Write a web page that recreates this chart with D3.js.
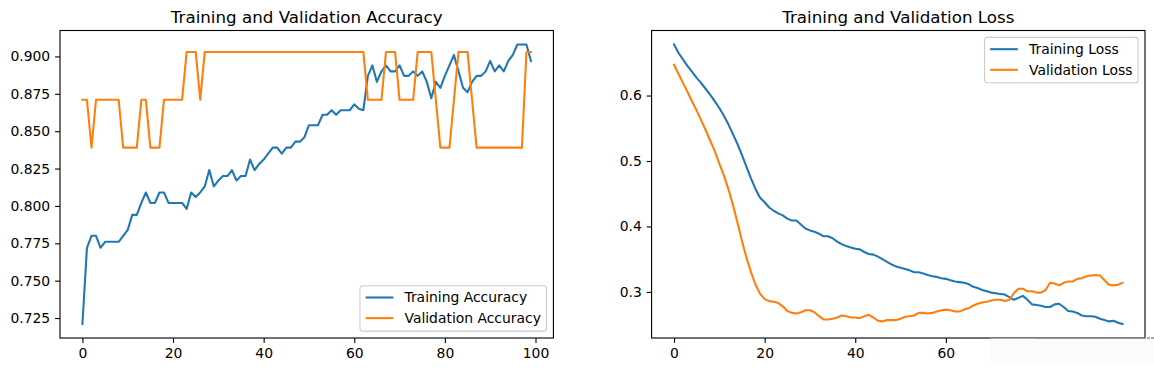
<!DOCTYPE html>
<html>
<head>
<meta charset="utf-8">
<script src="https://cdn.jsdelivr.net/npm/d3@7"></script>
<style>
  html, body { margin: 0; padding: 0; background: #fff; }
  svg { display: block; font-family: "DejaVu Sans", sans-serif; }
</style>
</head>
<body>
<svg id="chart" width="1154" height="372"></svg>
<script>
// values, one per epoch
const trainAcc = [
  0.721, 0.772, 0.780, 0.780, 0.772, 0.776, 0.776, 0.776, 0.776, 0.780,
  0.784, 0.794, 0.794, 0.802, 0.809, 0.802, 0.802, 0.809, 0.809, 0.802,
  0.802, 0.802, 0.802, 0.798, 0.809, 0.806, 0.809, 0.813, 0.824, 0.813,
  0.817, 0.820, 0.820, 0.824, 0.817, 0.820, 0.820, 0.831, 0.824, 0.828,
  0.831, 0.835, 0.839, 0.839, 0.835, 0.839, 0.839, 0.843, 0.843, 0.846,
  0.854, 0.854, 0.854, 0.861, 0.861, 0.864, 0.861, 0.864, 0.864, 0.864,
  0.868, 0.865, 0.864, 0.887, 0.894, 0.883, 0.890, 0.894, 0.890, 0.890,
  0.894, 0.887, 0.887, 0.890, 0.887, 0.890, 0.883, 0.872, 0.883, 0.879,
  0.887, 0.894, 0.901, 0.890, 0.879, 0.876, 0.883, 0.887, 0.887, 0.890,
  0.897, 0.890, 0.894, 0.890, 0.897, 0.901, 0.908, 0.908, 0.908, 0.897
];
const valAcc = [
  0.871, 0.871, 0.839, 0.871, 0.871, 0.871, 0.871, 0.871, 0.871, 0.839,
  0.839, 0.839, 0.839, 0.871, 0.871, 0.839, 0.839, 0.839, 0.871, 0.871,
  0.871, 0.871, 0.871, 0.903, 0.903, 0.903, 0.871, 0.903, 0.903, 0.903,
  0.903, 0.903, 0.903, 0.903, 0.903, 0.903, 0.903, 0.903, 0.903, 0.903,
  0.903, 0.903, 0.903, 0.903, 0.903, 0.903, 0.903, 0.903, 0.903, 0.903,
  0.903, 0.903, 0.903, 0.903, 0.903, 0.903, 0.903, 0.903, 0.903, 0.903,
  0.903, 0.903, 0.903, 0.871, 0.871, 0.871, 0.871, 0.903, 0.903, 0.903,
  0.871, 0.871, 0.871, 0.871, 0.903, 0.903, 0.903, 0.903, 0.871, 0.839,
  0.839, 0.839, 0.871, 0.903, 0.903, 0.903, 0.871, 0.839, 0.839, 0.839,
  0.839, 0.839, 0.839, 0.839, 0.839, 0.839, 0.839, 0.839, 0.903, 0.903
];
const trainLoss = [
  0.678, 0.665, 0.655, 0.645, 0.636, 0.627, 0.619, 0.610, 0.601, 0.591,
  0.581, 0.569, 0.556, 0.541, 0.526, 0.509, 0.491, 0.473, 0.457, 0.444,
  0.437, 0.429, 0.424, 0.420, 0.417, 0.412, 0.409, 0.409, 0.403, 0.397,
  0.394, 0.392, 0.389, 0.385, 0.385, 0.382, 0.377, 0.373, 0.370, 0.368,
  0.366, 0.365, 0.361, 0.358, 0.357, 0.354, 0.350, 0.346, 0.342, 0.339,
  0.337, 0.335, 0.333, 0.330, 0.330, 0.328, 0.326, 0.324, 0.323, 0.321,
  0.320, 0.318, 0.316, 0.315, 0.314, 0.312, 0.308, 0.306, 0.303, 0.301,
  0.299, 0.298, 0.297, 0.296, 0.292, 0.288, 0.291, 0.294, 0.288, 0.281,
  0.280, 0.279, 0.277, 0.277, 0.281, 0.282, 0.277, 0.271, 0.270, 0.268,
  0.264, 0.263, 0.263, 0.262, 0.259, 0.257, 0.255, 0.256, 0.253, 0.251
];
const valLoss = [
  0.647, 0.633, 0.619, 0.605, 0.591, 0.577, 0.562, 0.547, 0.531, 0.515,
  0.496, 0.478, 0.457, 0.433, 0.406, 0.378, 0.352, 0.330, 0.311, 0.297,
  0.289, 0.286, 0.285, 0.283, 0.278, 0.271, 0.268, 0.267, 0.269, 0.272,
  0.272, 0.269, 0.263, 0.258, 0.258, 0.259, 0.261, 0.264, 0.263, 0.261,
  0.261, 0.260, 0.263, 0.265, 0.261, 0.256, 0.255, 0.257, 0.257, 0.257,
  0.259, 0.262, 0.263, 0.264, 0.268, 0.268, 0.267, 0.268, 0.270, 0.272,
  0.273, 0.272, 0.270, 0.270, 0.273, 0.275, 0.279, 0.282, 0.284, 0.285,
  0.287, 0.288, 0.288, 0.286, 0.288, 0.298, 0.305, 0.305, 0.301, 0.301,
  0.299, 0.299, 0.303, 0.314, 0.313, 0.310, 0.314, 0.316, 0.316, 0.320,
  0.321, 0.324, 0.325, 0.326, 0.325, 0.318, 0.311, 0.310, 0.311, 0.314
];

const accTicks = [0.725, 0.750, 0.775, 0.800, 0.825, 0.850, 0.875, 0.900];
const lossTicks = [0.3, 0.4, 0.5, 0.6];
const accEpochTicks = [0, 20, 40, 60, 80, 100];
const lossEpochTicks = [0, 20, 40, 60, 80];

const BLUE = "#1f77b4";
const ORANGE = "#ff7f0e";
const FONT = 13.9;

const svg = d3.select("#chart");

// one matplotlib-style subplot
function drawPanel(p) {
  const n = p.series[0].values.length;
  const x = d3.scaleLinear()
    .domain([-(n - 1) * 0.05, (n - 1) * 1.05])
    .range([p.left, p.right]);
  const all = p.series.flatMap(s => s.values);
  const lo = d3.min(all), hi = d3.max(all), pad = (hi - lo) * 0.05;
  const y = d3.scaleLinear()
    .domain([lo - pad, hi + pad])
    .range([p.bottom, p.top]);

  const g = svg.append("g");

  const clipId = "clip-" + p.name;
  g.append("clipPath").attr("id", clipId)
    .append("rect")
    .attr("x", p.left).attr("y", p.top)
    .attr("width", p.right - p.left).attr("height", p.bottom - p.top);

  const line = d3.line().x((d, i) => x(i)).y(d => y(d));
  p.series.forEach(s => {
    g.append("path")
      .attr("clip-path", `url(#${clipId})`)
      .attr("d", line(s.values))
      .attr("fill", "none")
      .attr("stroke", s.color)
      .attr("stroke-width", 2.08)
      .attr("stroke-linejoin", "round")
      .attr("stroke-linecap", "square");
  });

  // axes
  const xAxis = g.append("g")
    .attr("transform", `translate(0,${p.bottom})`)
    .call(d3.axisBottom(x).tickValues(p.xTicks).tickSize(4.9).tickPadding(4.9)
      .tickFormat(d3.format("d")));
  const yAxis = g.append("g")
    .attr("transform", `translate(${p.left},0)`)
    .call(d3.axisLeft(y).tickValues(p.yTicks).tickSize(4.9).tickPadding(4.9)
      .tickFormat(d3.format(p.yFormat)));
  [xAxis, yAxis].forEach(a => {
    a.select(".domain").remove();
    a.selectAll(".tick line").attr("stroke", "#000").attr("stroke-width", 1.1);
    a.selectAll(".tick text")
      .attr("fill", "#000")
      .style("font-size", FONT + "px")
      .style("font-family", "'DejaVu Sans', sans-serif");
  });

  // frame
  g.append("rect")
    .attr("x", p.left).attr("y", p.top)
    .attr("width", p.right - p.left).attr("height", p.bottom - p.top)
    .attr("fill", "none")
    .attr("stroke", "#000")
    .attr("stroke-width", 1.1);

  // title
  g.append("text")
    .attr("x", (p.left + p.right) / 2)
    .attr("y", p.top - 8)
    .attr("text-anchor", "middle")
    .style("font-size", "16.7px")
    .text(p.title);

  // legend
  const lg = g.append("g");
  const box = lg.append("rect");
  const labels = p.series.map((s, i) =>
    lg.append("text")
      .attr("y", 11.8 + i * 20.6)
      .attr("dy", "0.35em")
      .style("font-size", FONT + "px")
      .text(s.label));
  const textW = d3.max(labels, t => t.node().getComputedTextLength());
  const pad0 = 5.6, handle = 27.8, gap = 11.1;
  const boxW = pad0 + handle + gap + textW + pad0;
  const boxH = 45.4;
  labels.forEach(t => t.attr("x", pad0 + handle + gap));
  p.series.forEach((s, i) => {
    lg.append("line")
      .attr("x1", pad0).attr("x2", pad0 + handle)
      .attr("y1", 11.8 + i * 20.6).attr("y2", 11.8 + i * 20.6)
      .attr("stroke", s.color)
      .attr("stroke-width", 2.08);
  });
  box.attr("width", boxW).attr("height", boxH)
    .attr("rx", 2.8)
    .attr("fill", "#fff").attr("fill-opacity", 0.8)
    .attr("stroke", "#cccccc").attr("stroke-width", 1.1);
  const lx = p.right - 6.9 - boxW;
  const ly = p.legend === "lower right" ? p.bottom - 6.9 - boxH : p.top + 6.9;
  lg.attr("transform", `translate(${lx},${ly})`);

  return g;
}

drawPanel({
  name: "acc",
  left: 60, right: 553.4, top: 30.5, bottom: 338,
  title: "Training and Validation Accuracy",
  series: [
    { label: "Training Accuracy", values: trainAcc, color: BLUE },
    { label: "Validation Accuracy", values: valAcc, color: ORANGE }
  ],
  xTicks: accEpochTicks, yTicks: accTicks, yFormat: ".3f",
  legend: "lower right"
});

drawPanel({
  name: "loss",
  left: 651.6, right: 1145, top: 30.5, bottom: 338,
  title: "Training and Validation Loss",
  series: [
    { label: "Training Loss", values: trainLoss, color: BLUE },
    { label: "Validation Loss", values: valLoss, color: ORANGE }
  ],
  xTicks: lossEpochTicks, yTicks: lossTicks, yFormat: ".1f",
  legend: "upper right"
});

// pasted-over patch in the lower right corner of the screenshot
svg.append("rect")
  .attr("x", 990).attr("y", 338.6)
  .attr("width", 164).attr("height", 24)
  .attr("fill", "#fbfbfb");
svg.append("line")
  .attr("x1", 1035).attr("x2", 1154)
  .attr("y1", 338).attr("y2", 338)
  .attr("stroke", "#8a8a8a")
  .attr("stroke-width", 1.4)
  .attr("stroke-dasharray", "3,1");
</script>
</body>
</html>
